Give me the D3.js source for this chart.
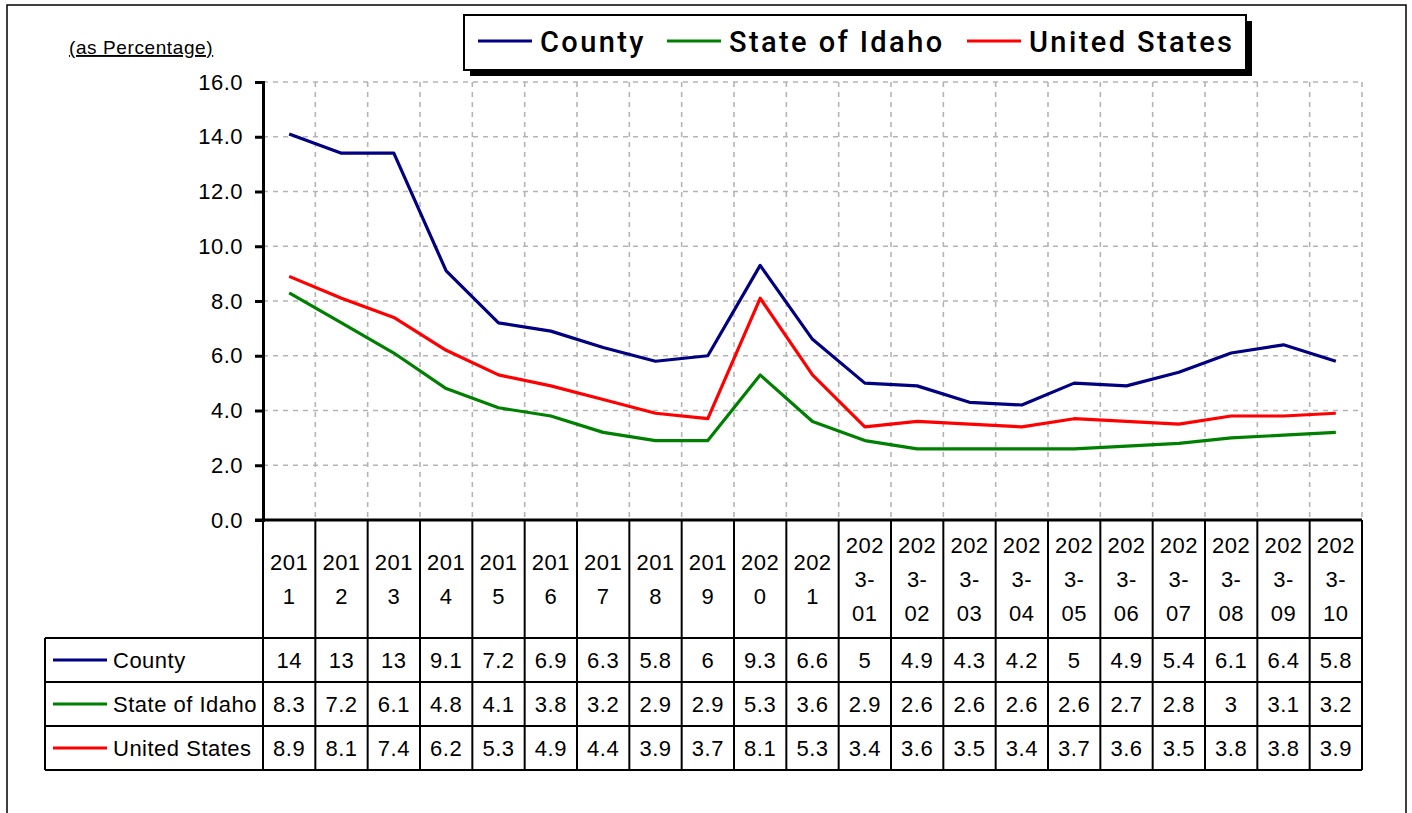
<!DOCTYPE html>
<html>
<head>
<meta charset="utf-8">
<title>unemployment-rate-table-chart</title>
<style>
body { margin: 0; background: #fff; font-family: "Liberation Sans", Arial, sans-serif; }
.grid line { stroke: #b4b4b4; stroke-width: 1.6; stroke-dasharray: 5,5; }
.cell { font-size: 22px; fill: #000; letter-spacing: 0.5px; }
</style>
</head>
<body>
<script src="https://cdn.jsdelivr.net/npm/d3@7"></script>
<script>
// categories (years, then 2023 months)
var categories = ["2011","2012","2013","2014","2015","2016","2017","2018","2019","2020","2021",
  "2023-01","2023-02","2023-03","2023-04","2023-05","2023-06","2023-07","2023-08","2023-09","2023-10"];

var countyValues = [14.1,13.4,13.4,9.1,7.2,6.9,6.3,5.8,6.0,9.3,6.6,5.0,4.9,4.3,4.2,5.0,4.9,5.4,6.1,6.4,5.8];
var idahoValues  = [8.3,7.2,6.1,4.8,4.1,3.8,3.2,2.9,2.9,5.3,3.6,2.9,2.6,2.6,2.6,2.6,2.7,2.8,3.0,3.1,3.2];
var usValues     = [8.9,8.1,7.4,6.2,5.3,4.9,4.4,3.9,3.7,8.1,5.3,3.4,3.6,3.5,3.4,3.7,3.6,3.5,3.8,3.8,3.9];

var seriesNames  = ["County", "State of Idaho", "United States"];
var seriesColors = ["#000080", "#008000", "#ff0000"];
var yTicks = [0, 2, 4, 6, 8, 10, 12, 14, 16];

var series = [countyValues, idahoValues, usValues].map(function (v, i) {
  return { name: seriesNames[i], color: seriesColors[i], values: v };
});

var W = 1412, H = 813;
var plot = { left: 263, right: 1362, top: 82, bottom: 520 };
var headerBottom = 638, rowH = 44, tableLeft = 45;

var svg = d3.select("body").append("svg").attr("width", W).attr("height", H);

// outer frame of the chart area
svg.append("path")
  .attr("d", "M7," + H + " V5 H1406 V" + H)
  .attr("fill", "none").attr("stroke", "#000").attr("stroke-width", 1.5);

var x = d3.scaleBand().domain(categories).range([plot.left, plot.right]);
var y = d3.scaleLinear().domain([0, 16]).range([plot.bottom, plot.top]);

// gridlines
var grid = svg.append("g").attr("class", "grid");
grid.selectAll(".h").data(yTicks.slice(1)).enter().append("line")
  .attr("x1", plot.left).attr("x2", plot.right)
  .attr("y1", function (d) { return y(d); }).attr("y2", function (d) { return y(d); });
grid.selectAll(".v").data(categories).enter().append("line")
  .attr("x1", function (d) { return x(d) + x.bandwidth(); })
  .attr("x2", function (d) { return x(d) + x.bandwidth(); })
  .attr("y1", plot.top).attr("y2", plot.bottom);

// y axis
var yAxis = svg.append("g")
  .attr("transform", "translate(" + plot.left + ",0)")
  .call(d3.axisLeft(y).tickValues(yTicks).tickFormat(d3.format(".1f")).tickSize(8).tickPadding(12));
yAxis.select(".domain").attr("stroke-width", 3);
yAxis.selectAll(".tick line").attr("stroke-width", 3);
yAxis.selectAll("text").attr("font-size", 22).attr("letter-spacing", 0.5)
  .attr("font-family", "Liberation Sans, Arial, sans-serif").attr("fill", "#000");

svg.append("text")
  .attr("x", 69).attr("y", 54)
  .attr("font-size", 19)
  .attr("letter-spacing", 0.6)
  .attr("text-decoration", "underline")
  .text("(as Percentage)");

// lines
var line = d3.line()
  .x(function (d, i) { return x(categories[i]) + x.bandwidth() / 2; })
  .y(function (d) { return y(d); });

svg.selectAll(".series").data(series).enter().append("path")
  .attr("d", function (s) { return line(s.values); })
  .attr("fill", "none")
  .attr("stroke", function (s) { return s.color; })
  .attr("stroke-width", 3.2)
  .attr("stroke-linejoin", "round");

// data table
var table = svg.append("g");
var tableBottom = headerBottom + rowH * series.length;

// header cells: wrap category text like the spreadsheet does
function wrapLabel(s) {
  var parts = s.match(/[^-]+-?/g), out = [];
  parts.forEach(function (p) {
    for (var i = 0; i < p.length; i += 3) out.push(p.slice(i, i + 3));
  });
  return out;
}
var lh = 34, headMid = (plot.bottom + headerBottom) / 2;
categories.forEach(function (c) {
  var lines = wrapLabel(c);
  var t = table.append("text").attr("class", "cell").attr("text-anchor", "middle");
  lines.forEach(function (l, i) {
    t.append("tspan")
      .attr("x", x(c) + x.bandwidth() / 2)
      .attr("y", headMid + (i - (lines.length - 1) / 2) * lh + 8)
      .text(l);
  });
});

// row values
var fmt = d3.format(".2~r");
series.forEach(function (s, r) {
  var cy = headerBottom + rowH * r + rowH / 2 + 8;
  table.selectAll(null).data(s.values).enter().append("text")
    .attr("class", "cell").attr("text-anchor", "middle")
    .attr("x", function (d, i) { return x(categories[i]) + x.bandwidth() / 2; })
    .attr("y", cy)
    .text(function (d) { return fmt(d); });
  table.append("line")
    .attr("x1", 53).attr("x2", 107)
    .attr("y1", cy - 8).attr("y2", cy - 8)
    .attr("stroke", s.color).attr("stroke-width", 3.2);
  table.append("text").attr("class", "cell")
    .attr("x", 113).attr("y", cy)
    .text(s.name);
});

// table borders
var tb = table.append("g").attr("stroke", "#000").attr("stroke-width", 2).attr("fill", "none");
categories.forEach(function (c) {
  tb.append("line").attr("x1", x(c)).attr("x2", x(c)).attr("y1", plot.bottom).attr("y2", tableBottom);
});
tb.append("line").attr("x1", plot.right).attr("x2", plot.right).attr("y1", plot.bottom).attr("y2", tableBottom);
tb.append("line").attr("x1", tableLeft).attr("x2", tableLeft).attr("y1", headerBottom).attr("y2", tableBottom);
for (var r = 0; r <= series.length; r++) {
  tb.append("line").attr("x1", tableLeft).attr("x2", plot.right)
    .attr("y1", headerBottom + rowH * r).attr("y2", headerBottom + rowH * r);
}
// x axis line (thick)
svg.append("line")
  .attr("x1", plot.left - 8).attr("x2", plot.right)
  .attr("y1", plot.bottom).attr("y2", plot.bottom)
  .attr("stroke", "#000").attr("stroke-width", 3);

// legend box with shadow
var lg = svg.append("g");
lg.append("rect").attr("x", 470).attr("y", 21).attr("width", 782).attr("height", 55).attr("fill", "#000");
lg.append("rect").attr("x", 464).attr("y", 15).attr("width", 782).attr("height", 55)
  .attr("fill", "#fff").attr("stroke", "#000").attr("stroke-width", 2);
var legendX = [478, 667, 967];
series.forEach(function (s, i) {
  lg.append("line")
    .attr("x1", legendX[i]).attr("x2", legendX[i] + 54)
    .attr("y1", 41).attr("y2", 41)
    .attr("stroke", s.color).attr("stroke-width", 3.2);
  lg.append("text")
    .attr("x", legendX[i] + 62).attr("y", 52)
    .attr("font-size", 29)
    .attr("font-family", "Roboto, sans-serif")
    .attr("font-weight", 500)
    .attr("letter-spacing", 2.4)
    .text(s.name);
});
</script>
</body>
</html>
